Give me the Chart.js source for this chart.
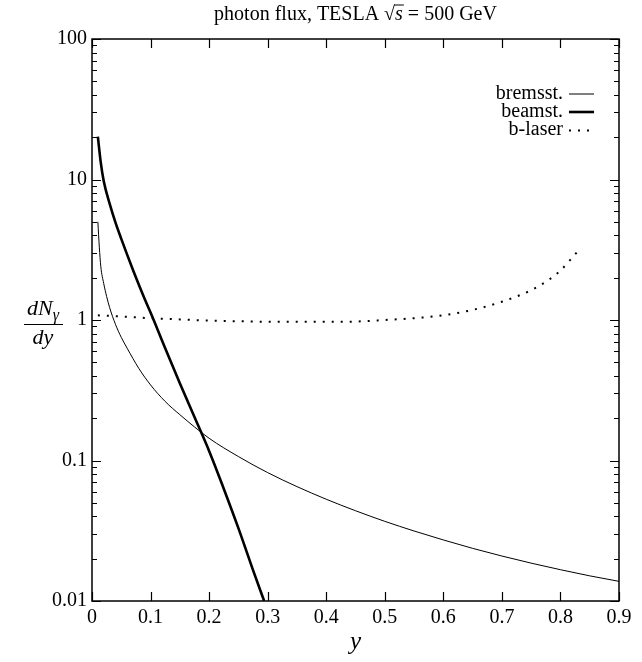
<!DOCTYPE html>
<html>
<head>
<meta charset="utf-8">
<script src="https://cdn.jsdelivr.net/npm/chart.js@4.4.0/dist/chart.umd.min.js"></script>
<style>
    html, body { margin: 0; padding: 0; background: #fff; }
    #wrap { width: 642px; height: 662px; position: relative; }
</style>
</head>
<body>
<div id="wrap"><canvas id="fluxChart"></canvas></div>
<script>
// photon flux curves
const bremX = [0.01, 0.0125, 0.015, 0.02, 0.025, 0.03, 0.04, 0.05, 0.06, 0.08, 0.1, 0.125, 0.15, 0.2, 0.25, 0.3, 0.35, 0.4, 0.45, 0.5, 0.55, 0.6, 0.65, 0.7, 0.75, 0.8, 0.85, 0.9];
const bremY = [5.0, 3.3, 2.41, 1.82, 1.47, 1.23, 0.933, 0.752, 0.63, 0.452, 0.345, 0.263, 0.212, 0.144, 0.1067, 0.082, 0.0652, 0.053, 0.0439, 0.0369, 0.0315, 0.0272, 0.0237, 0.0209, 0.0186, 0.0167, 0.0151, 0.0138];

const beamX = [0.01, 0.015, 0.02, 0.03, 0.04, 0.05, 0.06, 0.07, 0.08, 0.09, 0.1, 0.125, 0.15, 0.175, 0.2, 0.225, 0.25, 0.275, 0.294];
const beamY = [20.2, 13.2, 9.77, 6.76, 4.95, 3.78, 2.92, 2.27, 1.78, 1.41, 1.13, 0.63, 0.355, 0.204, 0.117, 0.063, 0.033, 0.0166, 0.01];

const laserX = [0.01, 0.05, 0.1, 0.15, 0.2, 0.25, 0.3, 0.35, 0.4, 0.45, 0.5, 0.55, 0.6, 0.65, 0.7, 0.75, 0.78, 0.8, 0.83];
const laserY = [1.08, 1.06, 1.03, 1.01, 0.99, 0.98, 0.972, 0.97, 0.97, 0.975, 1.0, 1.03, 1.08, 1.18, 1.35, 1.63, 1.93, 2.25, 3.1];

const seriesNames = ['bremsst.', 'beamst.', 'b-laser'];
const xTickValues = [0, 0.1, 0.2, 0.3, 0.4, 0.5, 0.6, 0.7, 0.8, 0.9];
const yDecades = [0.01, 0.1, 1, 10, 100];
const yDecadeLabels = ['0.01', '0.1', '1', '10', '100'];

const SERIF = '"Liberation Serif", "DejaVu Serif", serif';

function toPoints(xs, ys) {
    return xs.map((x, i) => ({ x: x, y: ys[i] }));
}

function decadeLabel(v) {
    for (let i = 0; i < yDecades.length; i++) {
        if (Math.abs(v - yDecades[i]) / yDecades[i] < 1e-6) return yDecadeLabels[i];
    }
    return '';
}

// frame, inward ticks, title, axis labels and legend
const decorPlugin = {
    id: 'decor',
    afterDraw(chart) {
        const { ctx, chartArea: a, scales } = chart;
        const x = scales.x, y = scales.y;
        ctx.save();
        ctx.strokeStyle = '#000';
        ctx.fillStyle = '#000';

        ctx.lineWidth = 1.5;
        ctx.strokeRect(a.left, a.top, a.right - a.left, a.bottom - a.top);

        ctx.lineWidth = 1.2;
        ctx.beginPath();
        xTickValues.forEach(v => {
            const px = Math.round(x.getPixelForValue(v)) + 0.5;
            ctx.moveTo(px, a.bottom); ctx.lineTo(px, a.bottom - 9);
            ctx.moveTo(px, a.top); ctx.lineTo(px, a.top + 9);
        });
        for (let d = 0; d < yDecades.length; d++) {
            for (let m = 1; m <= 9; m++) {
                const v = yDecades[d] * m;
                if (v > 100.0001) break;
                const py = Math.round(y.getPixelForValue(v)) + 0.5;
                const len = m === 1 ? 9 : 5;
                ctx.moveTo(a.left, py); ctx.lineTo(a.left + len, py);
                ctx.moveTo(a.right, py); ctx.lineTo(a.right - len, py);
            }
        }
        ctx.stroke();

        // title with sqrt(s)
        ctx.textBaseline = 'alphabetic';
        ctx.textAlign = 'left';
        const tFont = '20px ' + SERIF;
        const tItal = 'italic 20px ' + SERIF;
        const p1 = 'photon flux, TESLA ';
        const p3 = ' = 500 GeV';
        ctx.font = tFont;
        const w1 = ctx.measureText(p1).width;
        const wr = ctx.measureText('\u221A').width;
        const w3 = ctx.measureText(p3).width;
        ctx.font = tItal;
        const ws = ctx.measureText('s').width;
        const total = w1 + wr + ws + w3;
        let tx = (a.left + a.right) / 2 - total / 2;
        const ty = 20;
        ctx.font = tFont;
        ctx.fillText(p1, tx, ty); tx += w1;
        ctx.fillText('\u221A', tx, ty); tx += wr;
        ctx.lineWidth = 1;
        ctx.beginPath();
        ctx.moveTo(tx - 1, ty - 15); ctx.lineTo(tx + ws + 1, ty - 15);
        ctx.stroke();
        ctx.font = tItal;
        ctx.fillText('s', tx, ty); tx += ws;
        ctx.font = tFont;
        ctx.fillText(p3, tx, ty);

        // x axis label
        ctx.font = 'italic 25px ' + SERIF;
        ctx.textAlign = 'center';
        ctx.fillText('y', (a.left + a.right) / 2, 649);

        // y axis label as a fraction dN_gamma / dy
        const cx = 43;
        ctx.font = 'italic 22px ' + SERIF;
        const wN = ctx.measureText('dN').width;
        ctx.font = 'italic 16px ' + SERIF;
        const wG = ctx.measureText('\u03B3').width;
        const nx = cx - (wN + wG) / 2;
        ctx.textAlign = 'left';
        ctx.font = 'italic 22px ' + SERIF;
        ctx.fillText('dN', nx, 315);
        ctx.font = 'italic 16px ' + SERIF;
        ctx.fillText('\u03B3', nx + wN, 320);
        ctx.lineWidth = 1.2;
        ctx.beginPath();
        ctx.moveTo(24, 324.5); ctx.lineTo(63, 324.5);
        ctx.stroke();
        ctx.font = 'italic 22px ' + SERIF;
        ctx.textAlign = 'center';
        ctx.fillText('dy', cx, 344);

        // legend: text then line sample
        ctx.font = '20px ' + SERIF;
        ctx.textAlign = 'right';
        ctx.textBaseline = 'middle';
        const rows = [93.5, 111.5, 130];
        chart.data.datasets.forEach((ds, i) => {
            ctx.fillText(seriesNames[i], 563, rows[i]);
            ctx.save();
            ctx.lineWidth = ds.borderWidth;
            ctx.setLineDash(ds.borderDash || []);
            ctx.beginPath();
            ctx.moveTo(569, rows[i] + 0.5); ctx.lineTo(594, rows[i] + 0.5);
            ctx.stroke();
            ctx.restore();
        });

        ctx.restore();
    }
};

new Chart(document.getElementById('fluxChart').getContext('2d'), {
    type: 'line',
    data: {
        datasets: [
            {
                label: seriesNames[0],
                data: toPoints(bremX, bremY),
                borderColor: '#000',
                borderWidth: 1,
                pointRadius: 0,
                cubicInterpolationMode: 'monotone'
            },
            {
                label: seriesNames[1],
                data: toPoints(beamX, beamY),
                borderColor: '#000',
                borderWidth: 2.6,
                pointRadius: 0,
                cubicInterpolationMode: 'monotone'
            },
            {
                label: seriesNames[2],
                data: toPoints(laserX, laserY),
                borderColor: '#000',
                borderWidth: 2,
                borderDash: [2, 7],
                pointRadius: 0,
                cubicInterpolationMode: 'monotone'
            }
        ]
    },
    options: {
        responsive: true,
        maintainAspectRatio: false,
        animation: false,
        layout: { padding: { top: 39, right: 23, left: 0, bottom: 0 } },
        plugins: {
            legend: { display: false },
            tooltip: { enabled: false },
            title: { display: false }
        },
        scales: {
            x: {
                type: 'linear',
                min: 0,
                max: 0.9,
                grid: { display: false, drawTicks: false },
                border: { display: false },
                afterFit: scale => { scale.height = 61; },
                ticks: {
                    stepSize: 0.1,
                    padding: 5,
                    color: '#000',
                    font: { family: SERIF, size: 20 },
                    maxRotation: 0,
                    autoSkip: false,
                    callback: v => {
                        const r = Math.round(v * 10) / 10;
                        return r === 0 ? '0' : r.toFixed(1);
                    }
                }
            },
            y: {
                type: 'logarithmic',
                min: 0.01,
                max: 100,
                grid: { display: false, drawTicks: false },
                border: { display: false },
                afterFit: scale => { scale.width = 92; },
                ticks: {
                    autoSkip: false,
                    padding: 5,
                    color: '#000',
                    font: { family: SERIF, size: 20 },
                    callback: v => decadeLabel(v)
                }
            }
        }
    },
    plugins: [decorPlugin]
});
</script>
</body>
</html>
